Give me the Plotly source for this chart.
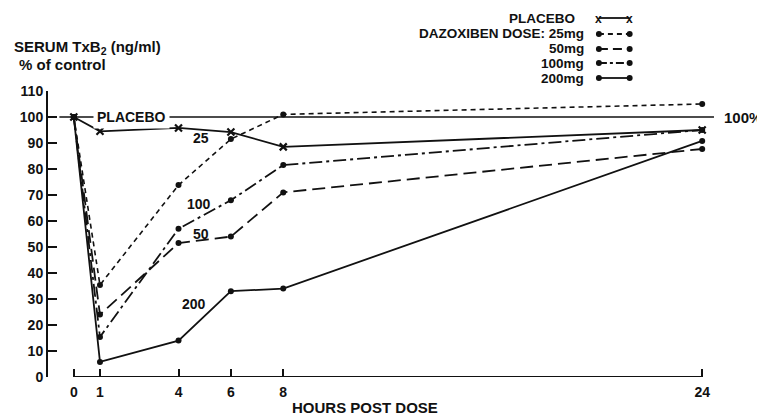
import plotly.graph_objects as go

hours = [0, 1, 4, 6, 8, 24]
placebo = [100, 94.5, 95.8, 94.2, 88.5, 95]
dose_25 = [100, 35.4, 73.8, 91.5, 101, 105]
dose_50 = [100, 24, 51.5, 54, 71, 87.7]
dose_100 = [100, 15.4, 57, 68, 81.5, 95]
dose_200 = [100, 5.8, 14, 33, 34, 90.8]
x_ticks = [0, 1, 4, 6, 8, 24]
y_ticks = [0, 10, 20, 30, 40, 50, 60, 70, 80, 90, 100, 110]

FONT = "Liberation Sans"
INK = "#111111"

OFF = 8  # page body margin
W, H = 765 - OFF, 415 - OFF
PL, PT = 43 - OFF, 91 - OFF
PR = W - (720 - OFF)
PB = H - (377 - OFF)
pw, ph = W - PL - PR, H - PT - PB
def px(x): return (x - OFF - PL) / pw
def py(y): return (H - PB - (y - OFF)) / ph

def F(size=14):
    return dict(family=FONT, size=size, color=INK, weight="bold")

D25 = "5px,4px"
D50 = "13px,6px"
D100 = "13px,4px,3px,4px"

fig = go.Figure()

# 100% reference line
fig.add_trace(go.Scatter(x=[-0.55, 24.45], y=[100, 100], mode="lines",
                         line=dict(color=INK, width=1.3), showlegend=False, hoverinfo="skip"))

series = [
    (dose_25, D25, 1.6),
    (dose_50, D50, 1.8),
    (dose_100, D100, 1.8),
    (dose_200, "solid", 1.8),
]
for vals, dash, w in series:
    fig.add_trace(go.Scatter(x=hours, y=vals, mode="lines+markers",
                             line=dict(color=INK, width=w, dash=dash),
                             marker=dict(symbol="circle", size=6, color=INK),
                             showlegend=False))

fig.add_trace(go.Scatter(x=hours, y=placebo, mode="lines+markers",
                         line=dict(color=INK, width=1.8),
                         marker=dict(symbol="x-thin", size=7, color=INK,
                                     line=dict(width=2.2, color=INK)),
                         showlegend=False))

# x axis line from 0 to 24
fig.add_shape(type="line", xref="x", yref="y", x0=0, x1=24, y0=0, y1=0,
              line=dict(color=INK, width=2))

def pann(x, y, text, xanchor="left", size=14, **kw):
    fig.add_annotation(x=px(x), y=py(y), xref="paper", yref="paper", text=text,
                       xanchor=xanchor, yanchor="middle", showarrow=False,
                       font=F(size), **kw)

# in-plot labels
fig.add_annotation(x=2.2, y=100, text="PLACEBO", xref="x", yref="y", bgcolor="white",
                   showarrow=False, font=F(14), borderpad=3, xanchor="center", yanchor="middle")
for xx, yy, t in [(4.85, 92, "25"), (4.8, 66.5, "100"), (4.85, 55, "50"), (4.6, 28, "200")]:
    fig.add_annotation(x=xx, y=yy, text=t, xref="x", yref="y", showarrow=False,
                       font=F(14), xanchor="center", yanchor="middle")

pann(722, 118, "100%", size=15)

# axis titles
pann(7, 47, "SERUM TxB<sub>2</sub> (ng/ml)", size=15)
pann(12, 64, "% of control", size=15)
pann(362, 407, "HOURS POST DOSE", xanchor="center", size=15)

# legend (custom, right-aligned text with sample to the right)
leg_rows = [
    ("PLACEBO", 576, 18, "solid", "x"),
    ("DAZOXIBEN DOSE: 25mg", 585, 34, D25, "o"),
    ("50mg", 585, 49, "9px,5px", "o"),
    ("100mg", 585, 63, "8px,3px,3px,3px", "o"),
    ("200mg", 585, 78, "solid", "o"),
]
for text, xr, yy, dash, mk in leg_rows:
    pann(xr, yy, text, xanchor="right", size=13.5)
    fig.add_shape(type="line", xref="paper", yref="paper", x0=px(598), x1=px(629),
                  y0=py(yy), y1=py(yy), line=dict(color=INK, width=1.8, dash=dash))
    for xx in (598, 629):
        if mk == "o":
            fig.add_shape(type="circle", xref="paper", yref="paper",
                          x0=px(xx - 3), x1=px(xx + 3), y0=py(yy - 3), y1=py(yy + 3),
                          fillcolor=INK, line=dict(color=INK, width=0))
        else:
            pann(xx, yy + 1, "x", xanchor="center", size=12)

fig.update_layout(
    width=W, height=H,
    margin=dict(l=PL, r=PR, t=PT, b=PB, pad=0),
    plot_bgcolor="white", paper_bgcolor="white",
    font=F(14),
    xaxis=dict(range=[-0.985, 24.68], tickvals=x_ticks, ticks="inside", ticklen=8,
               tickwidth=2, tickcolor=INK, showline=False, showgrid=False,
               zeroline=False, tickfont=F(14), ticklabelstandoff=5),
    yaxis=dict(range=[0, 110], tickvals=y_ticks, ticks="inside", ticklen=9,
               tickwidth=2, tickcolor=INK, showline=True, linecolor=INK, linewidth=2,
               showgrid=False, zeroline=False, tickfont=F(14)),
)

fig.write_html("out.html")
